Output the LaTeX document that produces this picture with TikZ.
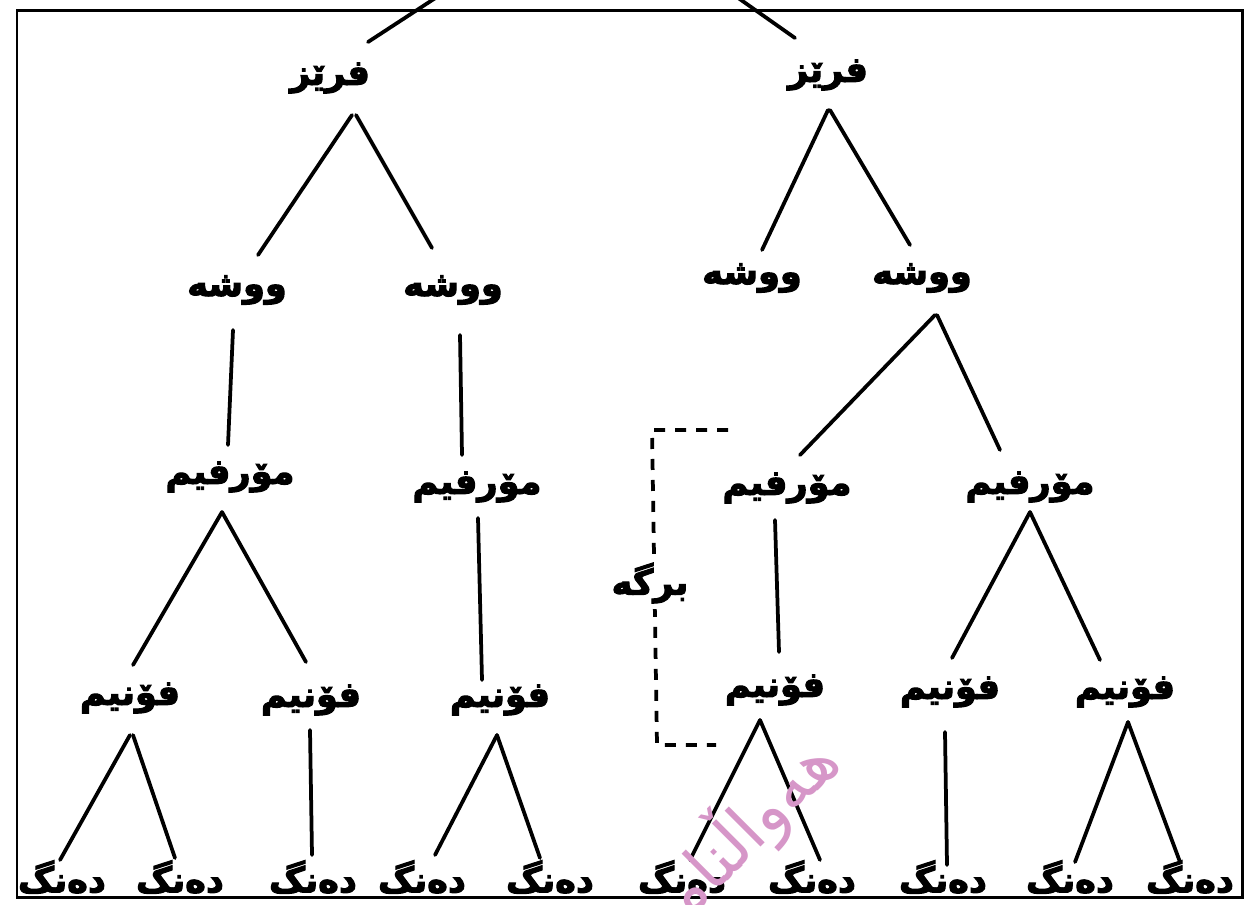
\documentclass[tikz,border=0pt]{standalone}
\usepackage{fontspec}
\TeXXeTstate=1
\newfontfamily\arfont[Script=Arabic]{DejaVu Sans}
\newfontfamily\arbold[Script=Arabic,FakeBold=3]{DejaVu Sans Bold}
\usetikzlibrary{calc}
\definecolor{wm}{RGB}{214,150,200}
\begin{document}
\begin{tikzpicture}[x=0.02cm,y=-0.02cm,
  lbl/.style={inner sep=0pt,font=\arbold\fontsize{20}{24}\selectfont},
  edge/.style={line width=0.075cm,line cap=round},
  frame/.style={line width=0.06cm},
  sylline/.style={line width=0.075cm,dash pattern=on 0.22cm off 0.2cm}]
\useasboundingbox (0,0) rectangle (1250,904);
% frame
\draw[frame] (17,10) rectangle (1242,897);
% nodes
\node[lbl] (p1) at (330,78) {\beginR فرێز\endR};
\node[lbl] (p2) at (828,75) {\beginR فرێز\endR};
\node[lbl] (w1) at (237,290) {\beginR ووشە\endR};
\node[lbl] (w2) at (453,290) {\beginR ووشە\endR};
\node[lbl] (w3) at (752,278) {\beginR ووشە\endR};
\node[lbl] (w4) at (922,278) {\beginR ووشە\endR};
\node[lbl] (m1) at (230,477) {\beginR مۆرفیم\endR};
\node[lbl] (m2) at (477,487) {\beginR مۆرفیم\endR};
\node[lbl] (m3) at (787,488) {\beginR مۆرفیم\endR};
\node[lbl] (m4) at (1030,487) {\beginR مۆرفیم\endR};
\node[lbl] (f1) at (130,698) {\beginR فۆنیم\endR};
\node[lbl] (f2) at (311,700) {\beginR فۆنیم\endR};
\node[lbl] (f3) at (500,700) {\beginR فۆنیم\endR};
\node[lbl] (f4) at (775,690) {\beginR فۆنیم\endR};
\node[lbl] (f5) at (950,692) {\beginR فۆنیم\endR};
\node[lbl] (f6) at (1125,692) {\beginR فۆنیم\endR};
\foreach \i/\x in {1/62,2/180,3/313,4/422,5/550,6/682,7/812,8/943,9/1070,10/1190}
  \node[lbl] (d\i) at (\x,877) {\beginR دەنگ\endR};
% top connectors leaving the frame
\coordinate (t1) at (440,-5);
\coordinate (t2) at (734,-5);
\draw[edge] ($(p1)+(38,-36)$) -- (t1);
\draw[edge] ($(p2)+(-33,-37)$) -- (t2);
% tree edges
\draw[edge] ($(p1)+(22,37)$) -- ($(w1)+(21,-35)$);
\draw[edge] ($(p1)+(26,37)$) -- ($(w2)+(-21,-42)$);
\draw[edge] ($(p2)+(0,35)$) -- ($(w3)+(10,-28)$);
\draw[edge] ($(p2)+(2,35)$) -- ($(w4)+(-12,-33)$);
\draw[edge] ($(w1)+(-4,40)$) -- ($(m1)+(-2,-32)$);
\draw[edge] ($(w2)+(7,45)$) -- ($(m2)+(-15,-32)$);
\draw[edge] ($(w4)+(13,37)$) -- ($(m3)+(13,-33)$);
\draw[edge] ($(w4)+(15,37)$) -- ($(m4)+(-30,-37)$);
\draw[edge] ($(m1)+(-8,35)$) -- ($(f1)+(3,-33)$);
\draw[edge] ($(m1)+(-8,35)$) -- ($(f2)+(-5,-38)$);
\draw[edge] ($(m2)+(1,31)$) -- ($(f3)+(-18,-20)$);
\draw[edge] ($(m3)+(-12,32)$) -- ($(f4)+(4,-38)$);
\draw[edge] ($(m4)+(0,25)$) -- ($(f5)+(2,-34)$);
\draw[edge] ($(m4)+(0,25)$) -- ($(f6)+(-25,-32)$);
\draw[edge] ($(f1)+(0,37)$) -- ($(d1)+(-2,-17)$);
\draw[edge] ($(f1)+(3,37)$) -- ($(d2)+(-5,-19)$);
\draw[edge] ($(f2)+(-1,30)$) -- ($(d3)+(-1,-22)$);
\draw[edge] ($(f3)+(-3,35)$) -- ($(d4)+(13,-22)$);
\draw[edge] ($(f3)+(-3,35)$) -- ($(d5)+(-10,-19)$);
\draw[edge] ($(f4)+(-15,30)$) -- ($(d6)+(8,-17)$);
\draw[edge] ($(f4)+(-15,30)$) -- ($(d7)+(8,-17)$);
\draw[edge] ($(f5)+(-5,40)$) -- ($(d8)+(4,-12)$);
\draw[edge] ($(f6)+(3,30)$) -- ($(d9)+(5,-15)$);
\draw[edge] ($(f6)+(3,30)$) -- ($(d10)+(-10,-15)$);
% syllable bracket
\draw[sylline] (728,430) -- (652,430) -- (657,745) -- (716,745);
\node[lbl,fill=white,inner sep=3pt] (syl) at (650,583) {\beginR برگە\endR};
% watermark (drawn over, as in the scan)
\node[rotate=45,anchor=east,text=wm,inner sep=0pt,font=\arfont\fontsize{38}{40}\selectfont] (wmk) at (826,748) {\beginR هەواڵنامە\endR};
\end{tikzpicture}
\end{document}
